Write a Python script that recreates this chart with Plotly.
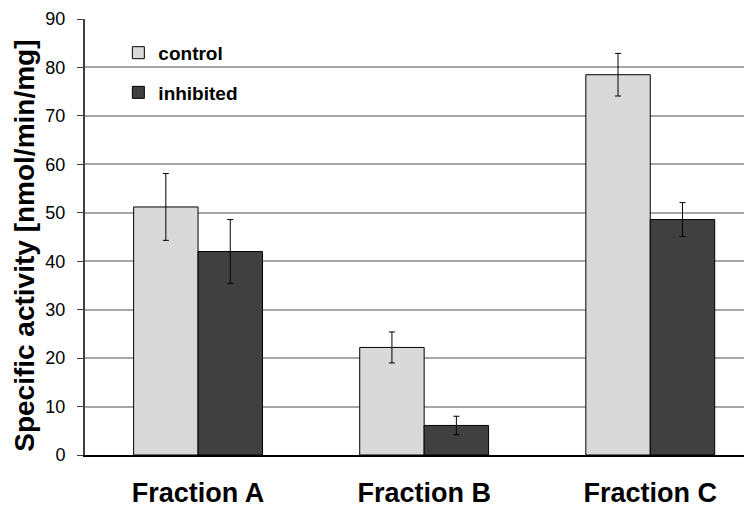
import plotly.graph_objects as go

categories = ["Fraction A", "Fraction B", "Fraction C"]
control = [51.2, 22.2, 78.5]
control_err = [6.9, 3.2, 4.4]
inhibited = [42.0, 6.1, 48.6]
inhibited_err = [6.6, 1.9, 3.5]
y_title = "Specific activity [nmol/min/mg]"

FONT = "Liberation Sans, Arial, sans-serif"

fig = go.Figure()
fig.add_trace(go.Bar(
    x=categories, y=control, name="control", legendgroup="c",
    marker=dict(color="#d9d9d9", line=dict(color="#000000", width=1)),
    error_y=dict(type="data", array=control_err, color="#000000", thickness=1, width=3),
))
fig.add_trace(go.Bar(
    x=categories, y=inhibited, name="inhibited", legendgroup="i",
    marker=dict(color="#404040", line=dict(color="#000000", width=1)),
    error_y=dict(type="data", array=inhibited_err, color="#000000", thickness=1, width=3),
))

# page body has an 8px default margin, so the figure is sized/offset to compensate
fig.update_layout(
    width=744, height=501,
    margin=dict(l=77, r=0, t=11, b=54),
    paper_bgcolor="white", plot_bgcolor="white",
    barmode="group", bargap=0.43, bargroupgap=0,
    font=dict(family=FONT, color="#000000"),
    legend=dict(
        x=0.05, y=0.966, xanchor="left", yanchor="top",
        bgcolor="rgba(0,0,0,0)", traceorder="grouped", tracegroupgap=12,
        font=dict(size=19, family=FONT, weight="bold"),
        itemwidth=30,
    ),
    xaxis=dict(
        range=[-0.5, 2.45], automargin=False,
        showline=True, linecolor="#000000", linewidth=2,
        ticks="", showgrid=False,
        tickfont=dict(size=27, family=FONT, weight="bold"),
        ticklabelstandoff=13,
    ),
    yaxis=dict(
        range=[0, 90], dtick=10, automargin=False,
        showline=True, linecolor="#404040", linewidth=2,
        ticks="outside", ticklen=6, tickcolor="#404040", tickwidth=1,
        showgrid=True, gridcolor="#a6a6a6", gridwidth=1.5,
        zeroline=False,
        tickfont=dict(size=18, family=FONT),
        ticklabelstandoff=8,
    ),
    annotations=[dict(
        text=y_title, xref="paper", yref="paper",
        x=-0.0905, y=0.479, xanchor="center", yanchor="middle",
        textangle=-90, showarrow=False, borderpad=0,
        font=dict(size=28, family=FONT, weight="bold"),
    )],
)

fig.write_html("out.html")
